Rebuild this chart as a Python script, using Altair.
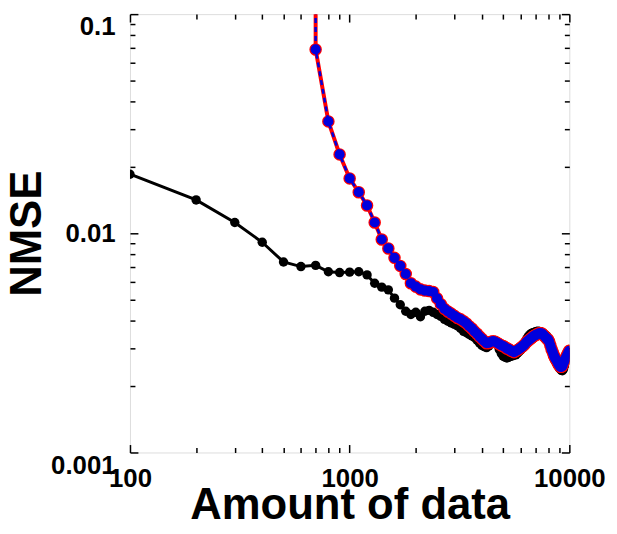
import altair as alt
import pandas as pd

# Black series (every 100 from 100 to 10000)
black_x = list(range(100, 10001, 100))
black_y = [
    0.0186, 0.0142, 0.0112, 0.0091, 0.0074, 0.00705, 0.00714, 0.00668, 0.00662, 0.00665,
    0.00668, 0.00646, 0.00592, 0.00568, 0.00552, 0.00506, 0.00472, 0.00441, 0.00426, 0.00436,
    0.00416, 0.00441, 0.00445, 0.00436, 0.00426, 0.00418, 0.00405, 0.00397, 0.00390, 0.00384,
    0.00378, 0.00368, 0.00357, 0.00352, 0.00346, 0.00340, 0.00335, 0.00325, 0.00316, 0.00308,
    0.00304, 0.00301, 0.00306, 0.00315, 0.00322, 0.00320, 0.00310, 0.00295, 0.00283, 0.00275,
    0.00272, 0.00270, 0.00272, 0.00274, 0.00276, 0.00278, 0.00279, 0.00283, 0.00288, 0.00293,
    0.00300, 0.00310, 0.00320, 0.00330, 0.00338, 0.00344, 0.00349, 0.00351, 0.00353, 0.00355,
    0.00357, 0.00358, 0.00357, 0.00356, 0.00352, 0.00348, 0.00345, 0.00342, 0.00340, 0.00332,
    0.00320, 0.00305, 0.00290, 0.00278, 0.00270, 0.00263, 0.00258, 0.00253, 0.00248, 0.00243,
    0.00240, 0.00237, 0.00236, 0.00240, 0.00248, 0.00258, 0.00268, 0.00278, 0.00287, 0.00295,
]

# Blue/red series (every 100 from 700 to 10000); line enters from above the plot
blue_x = list(range(700, 10001, 100))
blue_y = [
    0.069, 0.0324, 0.0229, 0.0178, 0.0154, 0.0134, 0.0112, 0.00937, 0.00853, 0.00773,
    0.0071, 0.00652, 0.00592, 0.00571, 0.00555, 0.00548, 0.00545, 0.00540, 0.00505, 0.00475,
    0.00452, 0.00440, 0.00430, 0.00420, 0.00411, 0.00405, 0.00397, 0.00388, 0.00377, 0.00368,
    0.00357, 0.00348, 0.00338, 0.00330, 0.00322, 0.00315, 0.00316, 0.00320, 0.00322, 0.00320,
    0.00316, 0.00312, 0.00308, 0.00306, 0.00302, 0.00298, 0.00296, 0.00292, 0.00290, 0.00287,
    0.00290, 0.00293, 0.00296, 0.00300, 0.00304, 0.00308, 0.00314, 0.00320, 0.00324, 0.00328,
    0.00332, 0.00336, 0.00340, 0.00343, 0.00345, 0.00348, 0.00350, 0.00350, 0.00349, 0.00345,
    0.00340, 0.00335, 0.00330, 0.00328, 0.00320, 0.00308, 0.00296, 0.00287, 0.00278, 0.00270,
    0.00266, 0.00260, 0.00254, 0.00250, 0.00246, 0.00246, 0.00248, 0.00256, 0.00262, 0.00268,
    0.00274, 0.00280, 0.00286, 0.00291,
]
blue_entry_x = [700]
blue_entry_y = [1.0]

x_major = [100, 1000, 10000]
y_major = [0.001, 0.01, 0.1]
x_ticks = [100, 200, 300, 400, 500, 600, 700, 800, 900,
           1000, 2000, 3000, 4000, 5000, 6000, 7000, 8000, 9000, 10000]
y_ticks = [0.001, 0.002, 0.003, 0.004, 0.005, 0.006, 0.007, 0.008, 0.009,
           0.01, 0.02, 0.03, 0.04, 0.05, 0.06, 0.07, 0.08, 0.09, 0.1]

black_df = pd.DataFrame({"x": black_x, "y": black_y, "i": range(len(black_x))})
blue_pts = pd.DataFrame({"x": blue_x, "y": blue_y})
blue_line = pd.DataFrame({
    "x": blue_entry_x + blue_x,
    "y": blue_entry_y + blue_y,
    "i": range(len(blue_x) + 1),
})

W, H = 443, 442
FONT = "Liberation Sans"

xs = alt.Scale(type="log", domain=[100, 10000], nice=False)
ys = alt.Scale(type="log", domain=[0.001, 0.1], nice=False)

major_test = "abs(log(datum.value)/LN10 - round(log(datum.value)/LN10)) < 1e-6"
tick_size = {"condition": {"test": major_test, "value": 8}, "value": 5}

def tick_axis(values, orient, offset):
    return alt.Axis(values=values, orient=orient, offset=offset, labels=False,
                    ticks=True, tickSize=tick_size, tickWidth=1.5, tickColor="black",
                    domain=False, grid=False, title=None)

x_label_axis = alt.Axis(values=x_major, orient="bottom", ticks=False, tickSize=0,
                        domain=False, grid=False, format="~g", labelFlush=False,
                        labelFont=FONT, labelFontSize=26, labelFontWeight="bold",
                        labelColor="black", labelPadding=13, labelOverlap=False,
                        title="Amount of data", titleFont=FONT, titleFontSize=44,
                        titleFontWeight="bold", titleColor="black", titlePadding=-7)
y_label_axis = alt.Axis(values=y_major, orient="left", ticks=False, tickSize=0,
                        domain=False, grid=False, format="~g", labelFlush=False,
                        labelFont=FONT, labelFontSize=26, labelFontWeight="bold",
                        labelColor="black", labelPadding=15, labelOverlap=False,
                        labelBaseline={"condition": {"test": "datum.value > 0.05 || datum.value < 0.005",
                                                     "value": "top"},
                                       "value": "middle"},
                        title="NMSE", titleFont=FONT, titleFontSize=44,
                        titleFontWeight="bold", titleColor="black", titlePadding=1)

black_line = alt.Chart(black_df).mark_line(color="black", strokeWidth=3, clip=True).encode(
    x=alt.X("x:Q", scale=xs, axis=x_label_axis),
    y=alt.Y("y:Q", scale=ys, axis=y_label_axis),
    order="i:Q",
)
black_points = alt.Chart(black_df).mark_circle(color="black", size=90, opacity=1, clip=True).encode(
    x=alt.X("x:Q", scale=xs, axis=tick_axis(x_ticks, "top", -H)),
    y=alt.Y("y:Q", scale=ys, axis=tick_axis(y_ticks, "right", -W)),
)
red_line = alt.Chart(blue_line).mark_line(color="#ff0000", strokeWidth=4, clip=True).encode(
    x=alt.X("x:Q", scale=xs, axis=tick_axis(x_ticks, "bottom", -H)),
    y=alt.Y("y:Q", scale=ys, axis=tick_axis(y_ticks, "left", -W)),
    order="i:Q",
)
red_points = alt.Chart(blue_pts).mark_circle(color="#ff0000", size=160, opacity=1, clip=True).encode(
    x=alt.X("x:Q", scale=xs, axis=None),
    y=alt.Y("y:Q", scale=ys, axis=None),
)
blue_dash = alt.Chart(blue_line).mark_line(color="#0000dd", strokeWidth=2.5,
                                           strokeDash=[5, 4], clip=True).encode(
    x=alt.X("x:Q", scale=xs, axis=None),
    y=alt.Y("y:Q", scale=ys, axis=None),
    order="i:Q",
)
blue_points = alt.Chart(blue_pts).mark_circle(color="#0000dd", size=105, opacity=1, clip=True).encode(
    x=alt.X("x:Q", scale=xs, axis=None),
    y=alt.Y("y:Q", scale=ys, axis=None),
)

chart = alt.layer(black_line, black_points, red_line, red_points, blue_dash, blue_points).resolve_axis(
    x="independent", y="independent"
).properties(
    width=W, height=H,
    autosize=alt.AutoSizeParams(type="none"),
    padding={"left": 123, "top": 4, "right": 40, "bottom": 78},
).configure_view(stroke="black", strokeWidth=2).configure(background="white")

chart.save("out.html", embed_options={"renderer": "svg", "actions": False})
